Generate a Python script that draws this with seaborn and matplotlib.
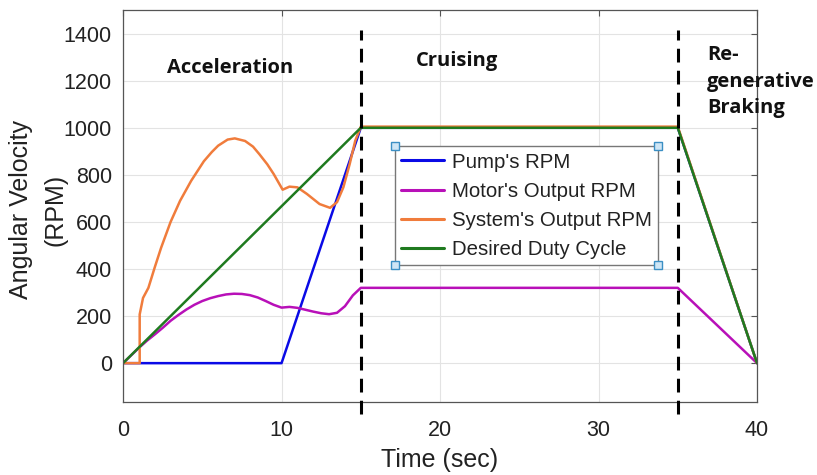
import numpy as np
import pandas as pd
import matplotlib
matplotlib.use("Agg")
import matplotlib.pyplot as plt
import seaborn as sns

# --- data ---
t_pump = [0, 10, 15, 35, 40]
rpm_pump = [0, 0, 1000, 1000, 0]

t_motor = [0, 1, 1.5, 2, 2.5, 3, 3.5, 4, 4.5, 5, 5.5, 6, 6.5, 7, 7.5, 8, 8.5, 9,
           9.5, 10, 10.5, 11, 11.5, 12, 12.5, 13, 13.5, 14, 14.5, 15, 35, 40]
rpm_motor = [0, 65, 95, 122, 150, 180, 205, 228, 248, 264, 276, 285, 292, 295, 294,
             289, 279, 264, 248, 236, 239, 235, 227, 219, 212, 208, 214, 242, 288, 320, 320, 0]

t_sys = [0, 1.05, 1.05, 1.26, 1.6, 2.0, 2.4, 3.0, 3.6, 4.3, 5.1, 5.6, 6.0, 6.6, 7.05, 7.7,
         8.2, 8.6, 9.1, 9.5, 10.07, 10.5, 11.0, 11.6, 12.4, 13.06, 13.5, 13.9, 14.3, 14.65, 15, 35, 40]
rpm_sys = [0, 0, 207, 277, 320, 407, 490, 600, 690, 775, 858, 897, 924, 950, 955, 944,
           920, 888, 845, 804, 737, 750, 747, 719, 676, 660, 684, 747, 846, 945, 1005, 1005, 0]

t_des = [0, 15, 35, 40]
rpm_des = [0, 1000, 1000, 0]

labels = ["Pump's RPM", "Motor's Output RPM", "System's Output RPM", "Desired Duty Cycle"]
colors = ["#0a0ae6", "#b810b8", "#f07c3c", "#1f7a1f"]

phase_lines = [15, 35]

df = pd.concat([
    pd.DataFrame({"t": t_pump, "rpm": rpm_pump, "series": labels[0]}),
    pd.DataFrame({"t": t_motor, "rpm": rpm_motor, "series": labels[1]}),
    pd.DataFrame({"t": t_sys, "rpm": rpm_sys, "series": labels[2]}),
    pd.DataFrame({"t": t_des, "rpm": rpm_des, "series": labels[3]}),
], ignore_index=True)

sns.set_style("white")
plt.rcParams['font.family'] = ['Liberation Sans', 'DejaVu Sans']

fig = plt.figure(figsize=(8.17, 4.75), dpi=100)
ax = fig.add_axes([0.1506, 0.1537, 0.776, 0.825])

sns.lineplot(data=df, x="t", y="rpm", hue="series", palette=dict(zip(labels, colors)),
             estimator=None, sort=False, linewidth=1.8, ax=ax)

# phase separators
for xv in phase_lines:
    ax.axvline(xv, ymin=-0.03, ymax=0.95, color="black", linestyle=(0, (4.5, 2.7)),
               linewidth=2.2, clip_on=False, zorder=5)

ax.set_xlim(0, 40)
ax.set_ylim(-165, 1500)
ax.set_xticks([0, 10, 20, 30, 40])
ax.set_yticks(range(0, 1401, 200))
ax.grid(True, color="#e3e3e3", linewidth=0.8)
ax.tick_params(direction="in", length=4, top=True, right=True, labelsize=15.5,
               color="#555555", labelcolor="#222222")
ax.tick_params(axis="x", pad=13)
ax.tick_params(axis="y", pad=8)
for s in ax.spines.values():
    s.set_color("#555555")
    s.set_linewidth(0.9)

ax.set_xlabel("Time (sec)", fontsize=18, color="#222222")
ax.xaxis.set_label_coords(0.5, -0.118)
ax.set_ylabel("Angular Velocity", fontsize=18, color="#222222")
ax.yaxis.set_label_coords(-0.142, 0.49)
ax.text(-0.106, 0.49, "(RPM)", transform=ax.transAxes, rotation=90, ha="center",
        va="center", fontsize=18, color="#222222")

# phase names
bold = dict(fontweight="bold", fontsize=14.5, color="#111111", family=["Open Sans", "DejaVu Sans"])
ax.text(2.8, 1255, "Acceleration", ha="left", va="center", **bold)
ax.text(18.5, 1285, "Cruising", ha="left", va="center", **bold)
ax.text(36.85, 1500 - 148, "Re-\ngenerative\nBraking", ha="left", va="top",
        linespacing=1.45, clip_on=False, **bold)

leg = ax.legend(loc="upper left", bbox_to_anchor=(0.429, 0.652), fontsize=14.7,
                frameon=True, fancybox=False, edgecolor="#777777", framealpha=1,
                handlelength=2.1, handletextpad=0.4, labelspacing=0.5,
                borderpad=0.3, borderaxespad=0)
leg.get_frame().set_linewidth(1.0)
for h in leg.get_lines():
    h.set_linewidth(2.2)
for txt in leg.get_texts():
    txt.set_color("#222222")

# edit-mode square handles on the legend corners
fig.canvas.draw()
bb = leg.get_window_extent().transformed(ax.transAxes.inverted())
ax.plot([bb.x0, bb.x1, bb.x0, bb.x1], [bb.y0, bb.y0, bb.y1, bb.y1], "s",
        transform=ax.transAxes, markersize=5.5, markerfacecolor="#cfe6f5",
        markeredgecolor="#3b8fc4", markeredgewidth=1, clip_on=False, zorder=10)

fig.savefig("out.png", dpi=100)
